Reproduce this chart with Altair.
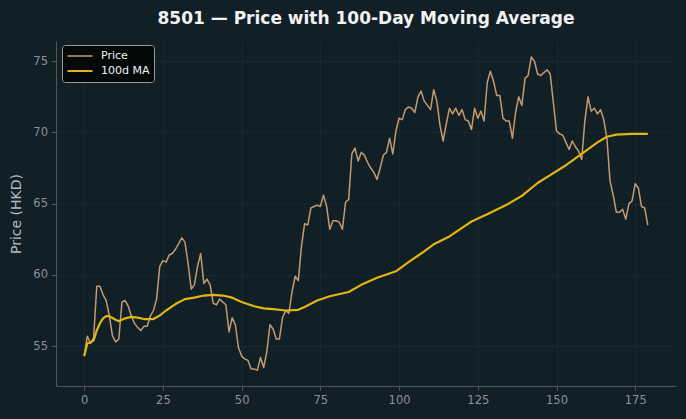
import altair as alt
import pandas as pd

# Daily closing price (day index 0..179)
price = [
    54.3, 55.7, 55.2, 55.6, 59.2, 59.2, 58.6, 58.2, 57.1, 55.7,
    55.3, 55.5, 58.1, 58.2, 57.8, 57.1, 56.6, 56.3, 56.1, 56.4,
    56.4, 57.1, 57.5, 58.3, 60.6, 61.0, 60.9, 61.4, 61.5, 61.8,
    62.2, 62.6, 62.3, 60.8, 59.0, 59.3, 60.6, 61.5, 59.4, 59.7,
    59.3, 58.0, 57.9, 58.3, 58.1, 57.9, 56.0, 57.0, 56.5, 54.9,
    54.3, 54.1, 54.0, 53.4, 53.4, 53.3, 54.2, 53.5, 54.6, 56.5,
    56.2, 55.5, 55.5, 57.0, 57.5, 57.3, 58.8, 59.9, 59.6, 62.0,
    63.6, 63.5, 64.7, 64.8, 64.9, 64.8, 65.6, 64.8, 63.2, 63.8,
    63.8, 63.7, 63.2, 65.1, 65.3, 68.5, 68.9, 68.0, 68.6, 68.4,
    67.9, 67.5, 67.2, 66.7, 67.5, 68.4, 68.6, 69.6, 68.5, 70.1,
    71.0, 70.9, 71.6, 71.8, 71.7, 71.4, 72.5, 72.9, 72.2, 71.9,
    71.6, 73.0, 72.2, 70.5, 69.4, 70.6, 71.7, 71.3, 71.7, 71.2,
    71.6, 70.9, 70.8, 70.2, 71.7, 71.0, 71.5, 70.8, 73.5, 74.3,
    73.6, 72.6, 72.6, 71.0, 70.8, 70.8, 69.6, 71.4, 72.5, 71.9,
    73.8, 74.0, 75.3, 75.0, 74.1, 74.0, 74.2, 74.4, 74.1, 72.1,
    70.1, 69.9, 69.8, 69.3, 68.8, 69.4, 69.0, 68.7, 68.1, 70.8,
    72.5, 71.5, 71.7, 71.3, 71.6, 70.9, 69.6, 66.6, 65.6, 64.4,
    64.4, 64.6, 63.9, 65.0, 65.2, 66.4, 66.1, 64.8, 64.7, 63.5,
]

ma_days = [0, 1, 2, 3, 4, 5, 6, 7, 8, 10, 11, 13, 15, 17, 19, 22, 24, 26, 29,
           32, 35, 38, 41, 44, 47, 50, 54, 57, 60, 64, 68, 70, 74, 78, 84, 88,
           93, 99, 103, 107, 111, 116, 120, 123, 128, 134, 139, 144, 148, 153,
           158, 163, 166, 169, 174, 179]
ma_vals = [54.3, 55.2, 55.25, 55.4, 56.1, 56.6, 56.95, 57.1, 57.1, 56.85, 56.75,
           56.95, 57.05, 57.0, 56.9, 56.9, 57.15, 57.5, 57.95, 58.3, 58.4, 58.55,
           58.6, 58.55, 58.4, 58.1, 57.8, 57.65, 57.6, 57.5, 57.55, 57.75, 58.2,
           58.5, 58.8, 59.3, 59.8, 60.25, 60.9, 61.5, 62.15, 62.7, 63.3, 63.75,
           64.25, 64.9, 65.55, 66.45, 67.0, 67.7, 68.5, 69.3, 69.7, 69.85, 69.9,
           69.9]

series_names = ["Price", "100d MA"]
series_colors = ["#c49a6f", "#e3b512"]
series_widths = [1.5, 2.2]
x_ticks = [0, 25, 50, 75, 100, 125, 150, 175]
y_ticks = [55, 60, 65, 70, 75]

df_price = pd.DataFrame({"day": list(range(len(price))), "value": price,
                         "series": series_names[0]})
df_ma = pd.DataFrame({"day": ma_days, "value": ma_vals, "series": series_names[1]})
df = pd.concat([df_price, df_ma], ignore_index=True)

BG = "#111f27"
FONT = "DejaVu Sans"

x_enc = alt.X("day:Q",
              scale=alt.Scale(domain=[-8.95, 187.95], nice=False, zero=False),
              axis=alt.Axis(values=x_ticks, title=None, grid=True))
y_enc = alt.Y("value:Q",
              scale=alt.Scale(domain=[52.2, 76.42], nice=False, zero=False),
              axis=alt.Axis(values=y_ticks, title="Price (HKD)", grid=True))
legend_def = alt.Legend(title=None, orient="none", legendX=6, legendY=4, clipHeight=14)
color_enc = alt.Color("series:N",
                      scale=alt.Scale(domain=series_names, range=series_colors),
                      legend=legend_def)
width_enc = alt.StrokeWidth("series:N",
                            scale=alt.Scale(domain=series_names, range=series_widths),
                            legend=legend_def)

base = alt.Chart(df).mark_line(strokeJoin="round").encode(
    x=x_enc, y=y_enc, color=color_enc, strokeWidth=width_enc
)
price_layer = base.transform_filter(alt.datum.series == series_names[0])
ma_layer = base.transform_filter(alt.datum.series == series_names[1])

chart = alt.layer(price_layer, ma_layer).properties(
    width=620,
    height=345,
    padding={"left": 56, "top": 41, "right": 10, "bottom": 33},
    autosize=alt.AutoSizeParams(type="none"),
    background=BG,
    title=alt.TitleParams(
        "8501 — Price with 100-Day Moving Average",
        anchor="middle", font=FONT, fontSize=17, fontWeight="bold",
        color="#f2f2f2", offset=13,
    ),
).configure_view(
    fill=BG, strokeWidth=0
).configure_axis(
    domainColor="#4f575b", domainWidth=1,
    tickColor="#4f575b", tickSize=4.5, tickWidth=1,
    labelColor="#8b9296", labelFont=FONT, labelFontSize=11.5, labelPadding=4,
    gridColor="#1b2b32", gridWidth=0.8,
    titleColor="#b3babe", titleFont=FONT, titleFontSize=14, titleFontWeight="normal",
    titlePadding=9,
).configure_legend(
    fillColor="#050809", strokeColor="#9a9a9a", cornerRadius=3, padding=4,
    labelColor="#f0f0f0", labelFont=FONT, labelFontSize=11, labelOffset=7,
    symbolType="stroke", symbolSize=625, rowPadding=1,
)

chart.save("out.html", embed_options={"renderer": "svg", "actions": False})
